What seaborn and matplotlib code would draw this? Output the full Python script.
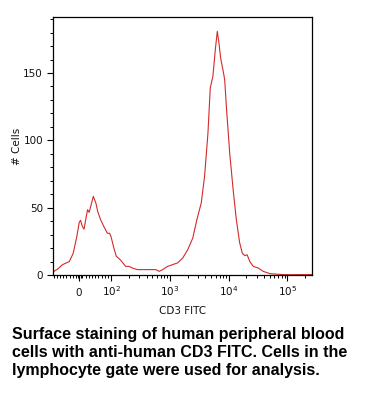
import numpy as np
import pandas as pd
import matplotlib
matplotlib.use('Agg')
import matplotlib.pyplot as plt
import seaborn as sns

# CD3 FITC histogram (intensity, cell count)
intensity = [-79, -67, -52, -31, -19, -8, 0, 4, 10, 15, 21, 26, 31, 36, 44, 52, 58,
             67, 77, 88, 95, 100, 111, 122, 145, 176, 201, 229, 279, 388, 575, 656,
             750, 912, 1110, 1350, 1650, 2010, 2450, 2870, 3410, 3880, 4430, 4860,
             5390, 5910, 6400, 6840, 7300, 8010, 8550, 9130, 10400, 11900, 13500,
             15400, 17100, 18800, 20600, 22900, 26200, 31800, 38700, 50500, 85500,
             262000]
cells = [2.7, 4.5, 7.7, 10, 16, 28, 39, 40.6, 36, 34, 42, 48.5, 46.5, 51, 58.4,
         53.5, 47, 41, 36, 31, 31, 28, 20, 14, 11, 6.4, 6.4, 5.2, 4, 4, 4, 2.7,
         4, 6.4, 7.7, 9, 12.6, 18.8, 27.5, 41, 53.5, 73, 105, 139, 147.5, 167,
         181, 172, 161, 152, 145, 125, 90.6, 63.4, 41, 23.8, 16, 14.4, 15, 10,
         6.4, 5.2, 2.7, 1, 0.25, 0.3]

x_major = [0, 100, 1000, 10000, 100000]
x_major_labels = [r'$\mathregular{0}$', r'$\mathregular{10^2}$', r'$\mathregular{10^3}$',
                  r'$\mathregular{10^4}$', r'$\mathregular{10^5}$']
y_major = [0, 50, 100, 150]

caption = ("Surface staining of human peripheral blood\n"
           "cells with anti-human CD3 FITC. Cells in the\n"
           "lymphocyte gate were used for analysis.")

df = pd.DataFrame({'CD3 FITC': intensity, '# Cells': cells})

sns.set_style('ticks')
plt.rcParams['font.family'] = ['DejaVu Sans']

fig = plt.figure(figsize=(3.72, 4.04), dpi=100)
ax = fig.add_axes([53 / 372, (404 - 275) / 404, 259 / 372, 258 / 404])

sns.lineplot(data=df, x='CD3 FITC', y='# Cells', ax=ax, color='#d42a2a',
             linewidth=0.8)

# biexponential-ish axis (symlog stands in for logicle)
ax.set_xscale('symlog', linthresh=100, linscale=0.49)
ax.set_xlim(-82, 262000)
ax.set_ylim(0, 191.6)

minor_x = ([-80, -70, -60, -50, -40, -30, -20, -10, -5, 5]
           + list(range(10, 100, 10))
           + [m * 10 ** d for d in (2, 3, 4) for m in range(2, 10)]
           + [200000])
ax.set_xticks(x_major)
ax.set_xticklabels(x_major_labels)
ax.set_xticks(minor_x, minor=True)
ax.set_yticks(y_major)
ax.set_yticks(np.arange(0, 191, 10), minor=True)

ax.tick_params(axis='both', which='major', length=4.2, width=0.8,
               labelsize=7.5, color='black', labelcolor='#111111')
ax.tick_params(axis='both', which='minor', length=2.2, width=0.7, color='black')
ax.tick_params(axis='x', which='major', pad=11)
ax.tick_params(axis='y', which='major', pad=3)
# keep "0" and "10^n" on one baseline
for lbl in ax.get_xticklabels():
    lbl.set_verticalalignment('baseline')

for s in ax.spines.values():
    s.set_visible(True)
    s.set_linewidth(0.9)
    s.set_color('black')

ax.set_xlabel('CD3 FITC', fontsize=7.5, labelpad=5.5, color='#111111')
ax.set_ylabel('# Cells', fontsize=7.5, labelpad=1, color='#111111')

fig.text(12 / 372, 1 - 327 / 404, caption, fontsize=11.5, fontweight='bold',
         family=['Liberation Sans', 'DejaVu Sans'], va='top', ha='left',
         linespacing=1.25, color='black')

fig.savefig('out.png', dpi=100)
